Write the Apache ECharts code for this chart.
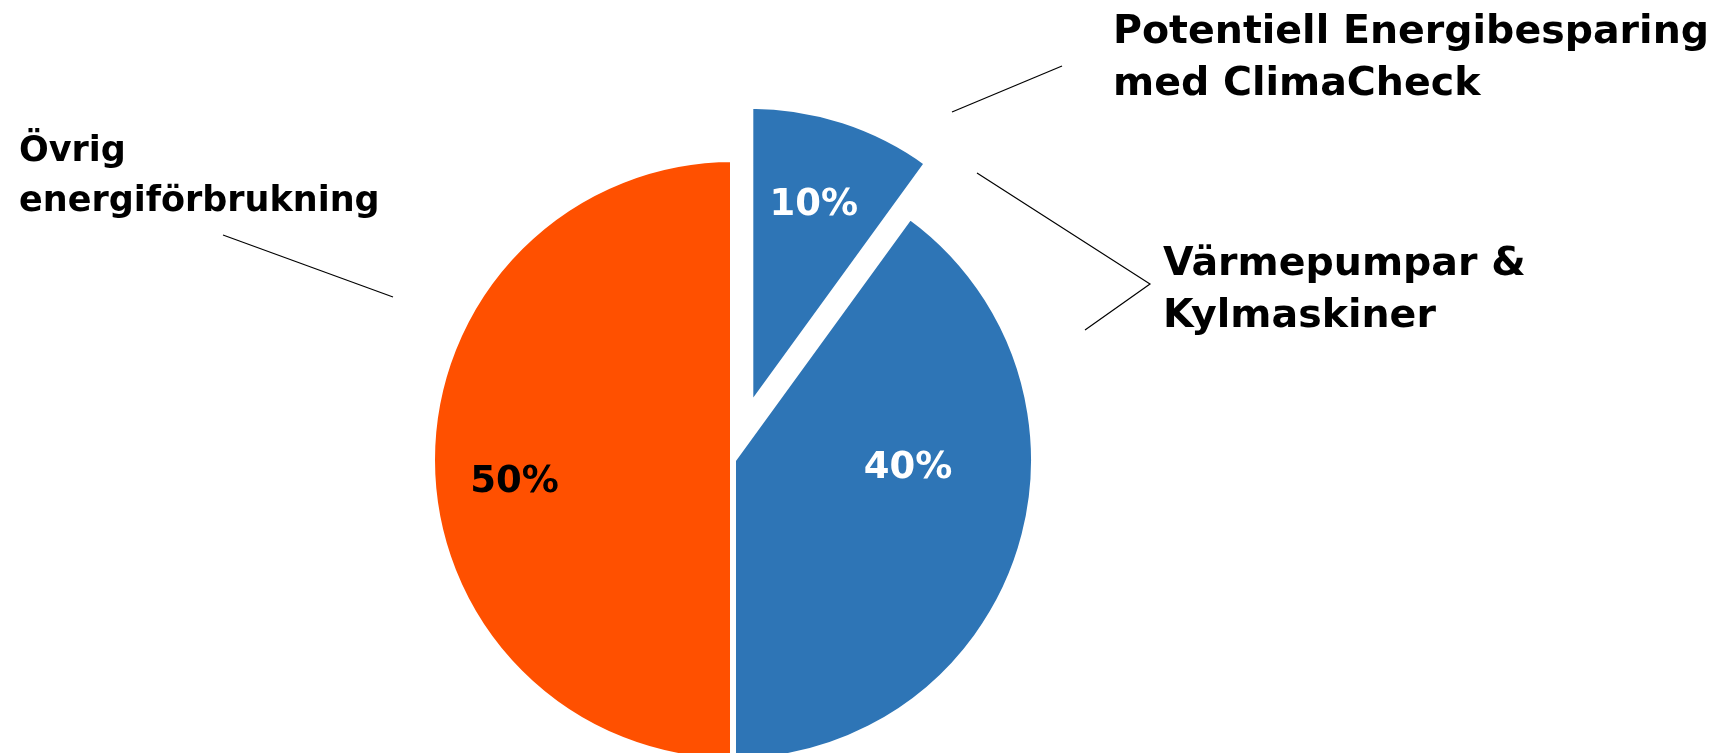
<!DOCTYPE html>
<html>
<head>
<meta charset="utf-8">
<script src="https://cdn.jsdelivr.net/npm/echarts@6/dist/echarts.min.js"></script>
<style>
  html, body { margin: 0; padding: 0; background: #ffffff; }
  #chart { width: 1717px; height: 753px; }
</style>
</head>
<body>
<div id="chart"></div>
<script>
// Energy use split, in percent of the total
const categories = [
  'Potentiell Energibesparing\nmed ClimaCheck',
  'Värmepumpar &\nKylmaskiner',
  'Övrig\nenergiförbrukning'
];
const shares = [10, 40, 50];
const sliceColors = ['#2E75B6', '#2E75B6', '#FF5000'];
const valueLabelColors = ['#ffffff', '#ffffff', '#000000'];

const FONT = '"DejaVu Sans", sans-serif';
const CENTER = [733, 460];
const RADIUS = 301;

// small nudges for the percentage labels inside each slice
const valueNudge = [[16, -55], [29, -39], [-65, 22]];
// name labels: left edge / vertical middle, plus their free-standing leader lines
const nameAnchor = [[1113, 59], [1163, 291], [19, 177]];
const leaderLines = [
  [[952, 112], [1062, 66]],
  [[977, 173], [1150, 284], [1085, 330]],
  [[393, 297], [223, 235]]
];

const chart = echarts.init(document.getElementById('chart'), null, { renderer: 'canvas' });

const option = {
  animation: false,
  backgroundColor: '#ffffff',
  series: [
    {
      // the visible pie with percentage labels
      type: 'pie',
      center: CENTER,
      radius: RADIUS,
      startAngle: 90,
      clockwise: true,
      selectedMode: 'single',
      selectedOffset: 56,
      silent: true,
      emphasis: { disabled: true },
      itemStyle: { borderColor: '#ffffff', borderWidth: 6 },
      label: {
        show: true,
        position: 'inside',
        formatter: p => p.value + '%',
        fontFamily: FONT,
        fontWeight: 'bold',
        fontSize: 37
      },
      labelLine: { show: false },
      labelLayout: p => ({ dx: valueNudge[p.dataIndex][0], dy: valueNudge[p.dataIndex][1] }),
      data: shares.map((v, i) => ({
        value: v,
        name: categories[i],
        selected: i === 0,
        itemStyle: { color: sliceColors[i] },
        label: { color: valueLabelColors[i] }
      }))
    },
    {
      // transparent twin carrying the category names and leader lines
      type: 'pie',
      center: CENTER,
      radius: RADIUS,
      startAngle: 90,
      clockwise: true,
      silent: true,
      emphasis: { disabled: true },
      z: 3,
      itemStyle: { color: 'rgba(0,0,0,0)', borderWidth: 0 },
      label: {
        show: true,
        position: 'outside',
        formatter: '{b}',
        fontFamily: FONT,
        fontWeight: 'bold',
        fontSize: 39.5,
        lineHeight: 52,
        color: '#000000',
        align: 'left'
      },
      labelLine: { show: true, lineStyle: { color: '#000000', width: 1.2 } },
      labelLayout: p => ({
        x: nameAnchor[p.dataIndex][0],
        y: nameAnchor[p.dataIndex][1],
        align: 'left',
        verticalAlign: 'middle',
        labelLinePoints: leaderLines[p.dataIndex]
      }),
      data: shares.map((v, i) => ({
        value: v,
        name: categories[i],
        label: i === 2 ? { fontSize: 35, lineHeight: 50 } : {}
      }))
    }
  ]
};

chart.setOption(option);
</script>
</body>
</html>
